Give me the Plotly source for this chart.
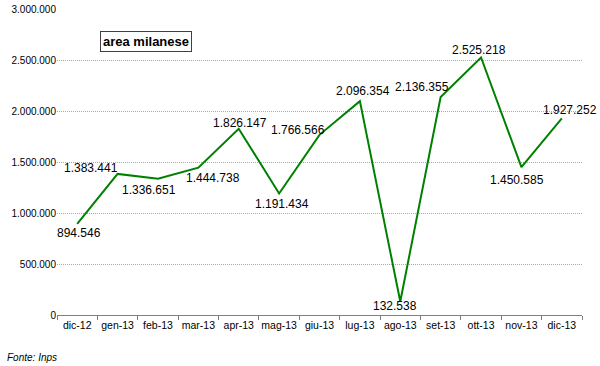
import plotly.graph_objects as go

months = ["dic-12", "gen-13", "feb-13", "mar-13", "apr-13", "mag-13", "giu-13",
          "lug-13", "ago-13", "set-13", "ott-13", "nov-13", "dic-13"]
values = [894546, 1383441, 1336651, 1444738, 1826147, 1191434, 1766566,
          2096354, 132538, 2136355, 2525218, 1450585, 1927252]
y_ticks = [0, 500000, 1000000, 1500000, 2000000, 2500000, 3000000]

# label pixel offsets (style only)
label_dx = [2, -27, -9, 15, 1, 3, -22, 3, -5, -19, -2, -4, 8]
label_dy = [-9, 6, -11, -10, 6, -11, 5, 10, -5, 10, 7, -13, 8]

FONT = "Liberation Sans, Arial, sans-serif"


def fmt(v):
    return f"{v:,}".replace(",", ".")


fig = go.Figure()
fig.add_trace(go.Scatter(
    x=months, y=values, mode="lines",
    line=dict(color="#008000", width=2),
    hoverinfo="skip", showlegend=False, cliponaxis=False,
))

annotations = []
for m, v, dx, dy in zip(months, values, label_dx, label_dy):
    annotations.append(dict(
        x=m, y=v, text=fmt(v), showarrow=False,
        xshift=dx, yshift=dy, xanchor="center", yanchor="middle",
        font=dict(family=FONT, size=12, color="#000000"),
    ))

annotations.append(dict(
    x=0.17, y=0.894, xref="paper", yref="paper", xanchor="center", yanchor="middle",
    text="<b>area milanese</b>", showarrow=False,
    bordercolor="#404040", borderwidth=1, borderpad=2, bgcolor="#ffffff",
    font=dict(family=FONT, size=13, color="#000000"),
))
annotations.append(dict(
    x=-0.1, y=-0.14, xref="paper", yref="paper", xanchor="left", yanchor="middle",
    text="<i>Fonte: Inps</i>", showarrow=False,
    font=dict(family=FONT, size=10, color="#000000"),
))

fig.update_layout(
    width=600, height=366,
    margin=dict(l=57, r=18, t=9, b=51, autoexpand=False),
    plot_bgcolor="#ffffff", paper_bgcolor="#ffffff",
    separators=",.",
    annotations=annotations,
    font=dict(family=FONT, color="#000000"),
)
fig.update_xaxes(
    type="category", categoryorder="array", categoryarray=months,
    tickson="boundaries", ticks="outside", ticklen=4, tickcolor="#808080",
    showline=True, linecolor="#808080", linewidth=1,
    showgrid=False, tickfont=dict(size=10.5, color="#000000"),
    tickangle=0, automargin=False,
    range=[-0.5, len(months) - 0.5],
)
fig.update_yaxes(
    range=[0, 3000000], tickvals=y_ticks, tickformat=",d",
    showgrid=True, gridcolor="#a8a8a8", griddash="1px,1px", gridwidth=1,
    zeroline=False, showline=False, ticks="", automargin=False,
    tickfont=dict(size=10, color="#000000"),
)

fig.write_html(
    "out.html",
    config={"displayModeBar": False},
    post_script="document.body.style.margin='0';document.body.style.padding='0';",
)
